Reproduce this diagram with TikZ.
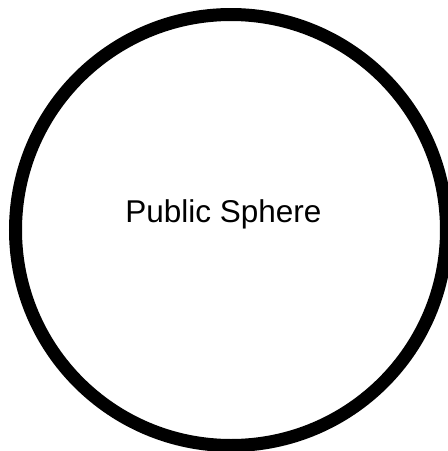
\documentclass[tikz,border=0pt]{standalone}
\usepackage{fontspec}
\setmainfont{Liberation Sans}
\usetikzlibrary{positioning}

\begin{document}
\begin{tikzpicture}[x=1pt, y=-1pt]
    % Page frame
    \useasboundingbox (0,0) rectangle (448,451);
    \clip (0,0) rectangle (448,451);

    % Sphere outline
    \node[circle, draw=black, line width=13pt, minimum size=431pt,
      inner sep=0pt] (sphere) at (231,230) {};

    % Label
    \node[anchor=base, font=\fontsize{31.5}{36}\selectfont, inner sep=0pt]
      (spherelabel) at (223.5,222) {Public Sphere};
  \end{tikzpicture}
\end{document}
